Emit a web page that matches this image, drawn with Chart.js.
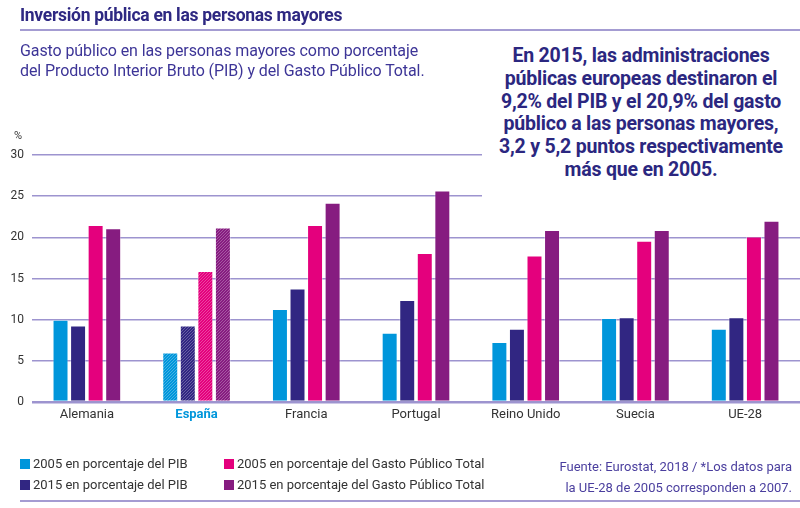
<!DOCTYPE html>
<html>
<head>
<meta charset="utf-8">
<script src="https://cdn.jsdelivr.net/npm/chart.js@4.4.1/dist/chart.umd.min.js"></script>
<style>
    html, body { margin: 0; padding: 0; background: #fff; }
    body { width: 800px; height: 508px; position: relative; overflow: hidden; font-family: Roboto, "Liberation Sans", sans-serif; }
    #chartBox { position: absolute; left: 0; top: 0; width: 800px; height: 508px; }
    .title { position: absolute; left: 20px; top: 5px; font-size: 17.5px; font-weight: 700; color: #2e2882; letter-spacing: -0.3px; }
    .rule { position: absolute; left: 20px; right: 0; height: 1.5px; background: #a49cd2; }
    .subtitle { position: absolute; left: 20px; top: 41px; font-size: 16px; line-height: 20px; color: #3d3597; letter-spacing: -0.1px; }
    .pct { position: absolute; left: 14px; top: 129px; font-size: 11px; color: #333; }
    .note { position: absolute; left: 482px; top: 38px; width: 318px; height: 166px; background: #fff;
            text-align: center; font-size: 19.5px; font-weight: 700; line-height: 22.8px; color: #2b2780; letter-spacing: -0.2px; }
    .note div { padding-top: 7px; }
    .legend { position: absolute; left: 20px; top: 456px; font-size: 13px; color: #333; }
    .legend span { position: absolute; white-space: nowrap; }
    .legend i { display: inline-block; width: 10px; height: 10px; margin-right: 3px; vertical-align: -1px; }
    .source { position: absolute; right: 8px; top: 456px; text-align: right; font-size: 13px; line-height: 21px; color: #4a3e9e; }
</style>
</head>
<body>
<div id="chartBox"><canvas id="chart" width="800" height="508"></canvas></div>
<div class="title">Inversión pública en las personas mayores</div>
<div class="rule" style="top: 29px;"></div>
<div class="subtitle">Gasto público en las personas mayores como porcentaje<br>del Producto Interior Bruto (PIB) y del Gasto Público Total.</div>
<div class="pct">%</div>
<div class="note"><div>En 2015, las administraciones<br>públicas europeas destinaron el<br>9,2% del PIB y el 20,9% del gasto<br>público a las personas mayores,<br>3,2 y 5,2 puntos respectivamente<br>más que en 2005.</div></div>
<div class="legend" id="legend"></div>
<div class="source">Fuente: Eurostat, 2018 / *Los datos para<br>la UE-28 de 2005 corresponden a 2007.</div>
<div class="rule" style="top: 500px;"></div>
<script>
const countries = ['Alemania', 'España', 'Francia', 'Portugal', 'Reino Unido', 'Suecia', 'UE-28'];
const pib2005 = [10.0, 6.0, 11.3, 8.4, 7.3, 10.2, 8.9];
const pib2015 = [9.3, 9.3, 13.8, 12.4, 8.9, 10.3, 10.3];
const gasto2005 = [21.5, 15.9, 21.5, 18.1, 17.8, 19.6, 20.1];
const gasto2015 = [21.1, 21.2, 24.2, 25.7, 20.9, 20.9, 22.0];
const yTicks = [0, 5, 10, 15, 20, 25, 30];
const seriesNames = [
    '2005 en porcentaje del PIB',
    '2015 en porcentaje del PIB',
    '2005 en porcentaje del Gasto Público Total',
    '2015 en porcentaje del Gasto Público Total'
];
const seriesColors = ['#0096db', '#312682', '#e4007d', '#861c80'];
const hatched = 'España';

// rayado fino "/" para los datos de España
function hatch(color) {
    const c = document.createElement('canvas');
    c.width = 3; c.height = 3;
    const g = c.getContext('2d');
    g.fillStyle = color;
    g.fillRect(0, 0, 3, 3);
    g.strokeStyle = 'rgba(255,255,255,0.3)';
    g.lineWidth = 0.9;
    g.beginPath();
    g.moveTo(-1, 4); g.lineTo(4, -1);
    g.moveTo(-1, 1); g.lineTo(1, -1);
    g.moveTo(2, 4); g.lineTo(4, 2);
    g.stroke();
    return g.createPattern(c, 'repeat');
}

const seriesData = [pib2005, pib2015, gasto2005, gasto2015];
const datasets = seriesData.map((values, i) => ({
    label: seriesNames[i],
    data: values,
    backgroundColor: countries.map(n => n === hatched ? hatch(seriesColors[i]) : seriesColors[i]),
    borderColor: 'rgba(255,255,255,0.35)',
    borderWidth: 1,
    categoryPercentage: 0.64,
    barPercentage: 0.91
}));

const legend = document.getElementById('legend');
const legendPos = [[0, 0], [0, 21], [204, 0], [204, 21]];
seriesNames.forEach((n, i) => {
    const s = document.createElement('span');
    s.style.left = legendPos[i][0] + 'px';
    s.style.top = legendPos[i][1] + 'px';
    s.innerHTML = `<i style="background:${seriesColors[i]}"></i>${n}`;
    legend.appendChild(s);
});

new Chart(document.getElementById('chart'), {
    type: 'bar',
    data: { labels: countries, datasets },
    options: {
        responsive: false,
        animation: false,
        layout: { padding: { left: 0, right: 0, top: 155, bottom: 80 } },
        plugins: { legend: { display: false }, tooltip: { enabled: false } },
        scales: {
            x: {
                grid: { display: false, drawTicks: false },
                border: { display: false },
                afterFit: s => { s.height = 26; },
                ticks: {
                    padding: 5,
                    color: ctx => countries[ctx.index] === hatched ? '#0096db' : '#333',
                    font: ctx => ({ family: 'Roboto', size: 13, weight: countries[ctx.index] === hatched ? 'bold' : 'normal' })
                }
            },
            y: {
                min: 0, max: 30,
                afterBuildTicks: s => { s.ticks = yTicks.map(v => ({ value: v })); },
                afterFit: s => { s.width = 32; },
                border: { display: false },
                grid: {
                    color: '#9d94cf',
                    lineWidth: ctx => ctx.tick && ctx.tick.value === 0 ? 2.5 : 1.5,
                    drawTicks: false
                },
                ticks: { padding: 8, color: '#333', font: { family: 'Roboto', size: 12 } }
            }
        }
    }
});
</script>
</body>
</html>
